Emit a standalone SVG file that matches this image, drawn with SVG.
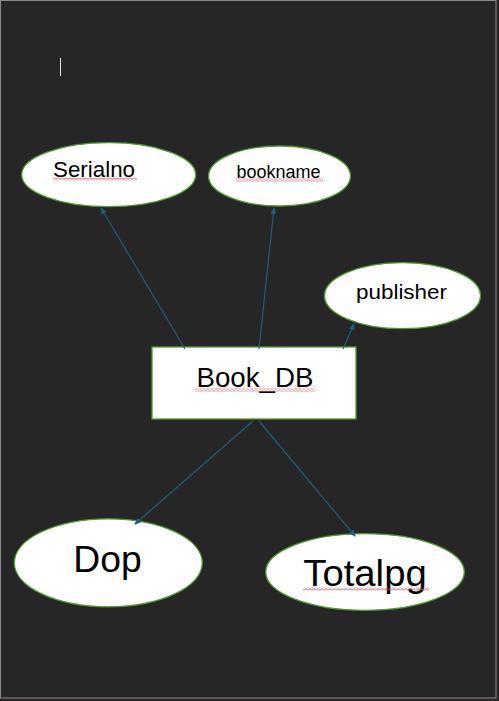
<svg xmlns="http://www.w3.org/2000/svg" width="499" height="701" viewBox="0 0 499 701">
<style>
.node{fill:#ffffff;stroke:#4e9a2e;stroke-width:1.3}
.lbl{font-family:"Liberation Sans","Open Sans",sans-serif;fill:#000000;text-anchor:start}
.edge{stroke:#1d5f7e;stroke-width:1.2;fill:none;marker-end:url(#arr)}
.sq{fill:url(#squig)}
</style>
<defs>
<marker id="arr" markerUnits="userSpaceOnUse" markerWidth="7" markerHeight="7" refX="6" refY="3.5" orient="auto">
<path d="M0,0.5 L7,3.5 L0,6.5 Z" fill="#1d5f7e"/>
</marker>
<pattern id="squig" patternUnits="userSpaceOnUse" width="4" height="3">
<path d="M0,2.4 L2,0.6 L4,2.4" stroke="#e2525a" stroke-width="1" fill="none"/>
</pattern>
</defs>
<rect x="0" y="0" width="499" height="701" fill="#2b2525"/>
<rect x="0.5" y="0.5" width="495.5" height="697.5" fill="#262626" stroke="#8a8a8a" stroke-width="1"/>
<line x1="60.5" y1="58" x2="60.5" y2="76" stroke="#e6e6e6" stroke-width="1"/>
<g id="serialno">
<ellipse class="node" cx="108.7" cy="174.7" rx="87" ry="32"/>
<text class="lbl" x="53" y="176.7" font-size="22" textLength="82" lengthAdjust="spacingAndGlyphs">Serialno</text>
<rect class="sq" x="53" y="177.5" width="84" height="3"/>
</g>
<g id="bookname">
<ellipse class="node" cx="279.5" cy="176" rx="71" ry="30"/>
<text class="lbl" x="236.5" y="177.7" font-size="18" textLength="84" lengthAdjust="spacingAndGlyphs">bookname</text>
<rect class="sq" x="236" y="178.5" width="87" height="3"/>
</g>
<g id="publisher">
<ellipse class="node" cx="402.5" cy="295.7" rx="78" ry="33"/>
<text class="lbl" x="356" y="299.3" font-size="21" textLength="91" lengthAdjust="spacingAndGlyphs">publisher</text>
</g>
<g id="book_db">
<rect class="node" x="152" y="347" width="204" height="72"/>
<text class="lbl" x="196.5" y="387.3" font-size="28" textLength="117" lengthAdjust="spacingAndGlyphs">Book_DB</text>
<rect class="sq" x="195" y="388.5" width="120" height="3"/>
</g>
<g id="dop">
<ellipse class="node" cx="108.3" cy="562.8" rx="94" ry="44"/>
<text class="lbl" x="73.3" y="572.2" font-size="36" textLength="68.4" lengthAdjust="spacingAndGlyphs">Dop</text>
</g>
<g id="totalpg">
<ellipse class="node" cx="365" cy="572" rx="99.3" ry="38.3"/>
<text class="lbl" x="303.3" y="585.7" font-size="36" textLength="123.4" lengthAdjust="spacingAndGlyphs">Totalpg</text>
<rect class="sq" x="303" y="587.5" width="126" height="3"/>
</g>
<g id="connectors">
<line class="edge" x1="185" y1="349" x2="101" y2="208"/>
<line class="edge" x1="259" y1="349" x2="274" y2="208"/>
<line class="edge" x1="343" y1="349" x2="354" y2="324"/>
<line class="edge" x1="253" y1="421" x2="135" y2="524"/>
<line class="edge" x1="259" y1="421" x2="355" y2="536"/>
</g>
</svg>
